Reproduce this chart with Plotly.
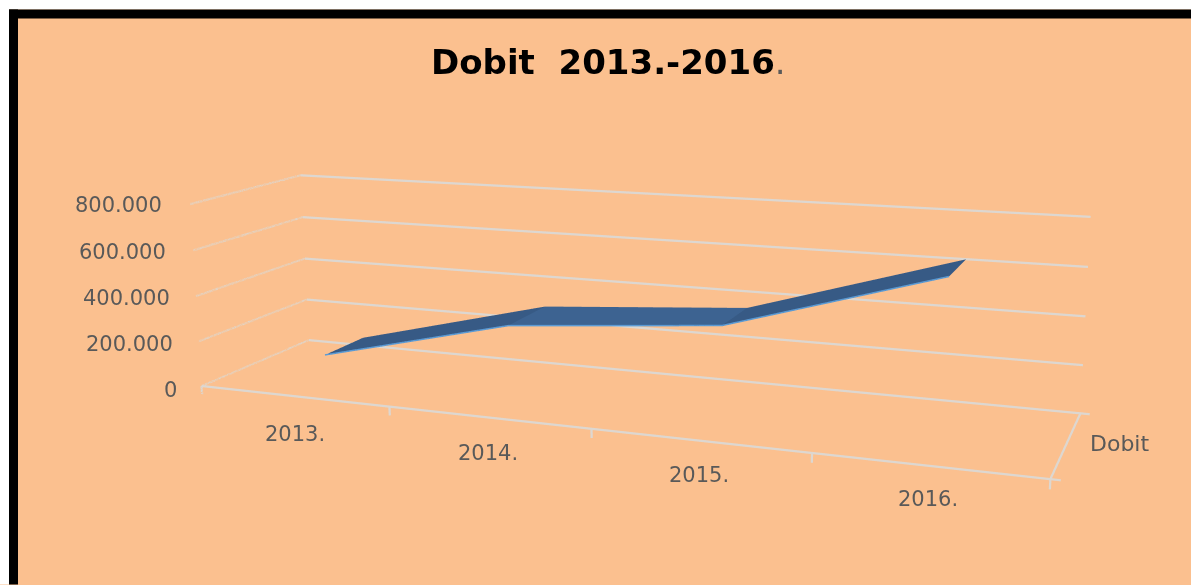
import numpy as np
import plotly.graph_objects as go

W, H = 1191, 585
HS = 1400               # taller scene: gives the long-lens perspective of the original
OFF = (HS - H) / 2

categories = ["2013.", "2014.", "2015.", "2016."]
series_name = "Dobit"
values = [108000, 316000, 366000, 631000]
z_ticks = [0, 200000, 400000, 600000, 800000]
z_labels = ["0", "200.000", "400.000", "600.000", "800.000"]
ribbon_front = [0.333, 0.316, 0.433, 0.420]
ribbon_back = [0.712, 0.748, 0.815, 0.819]
x_ticks = [-0.5, 0.533, 1.54, 2.533, 3.5]

# camera and box
eye = np.array([1.9154, -4.8343, 1.1892])
center = np.array([-0.6408, 1.3203, -0.2763])
up = [-0.376, 0.9164, 0.1371]
aspect = np.array([2.7499, 0.6666, 0.6113])
X_LO, X_HI, Z_LO, Z_HI = -0.5, 3.6, -45000, 810000
x_len, z_len = 4.0, 800000.0
new_aspect = aspect * [(X_HI - X_LO) / x_len, 1, (Z_HI - Z_LO) / z_len]
shift = np.array([-((X_HI + X_LO) / 2 - 1.5) / x_len * aspect[0], 0,
                  -((Z_HI + Z_LO) / 2 - 400000) / z_len * aspect[2]])
eye2, center2 = eye + shift, center + shift

fig = go.Figure()
GRID = "#DDD7D0"
FLAT_LIGHT = dict(ambient=1, diffuse=0, specular=0, roughness=1, fresnel=0)
def seg(xs, ys, zs, width=4.5, color=GRID):
    fig.add_trace(go.Scatter3d(x=xs, y=ys, z=zs, mode="lines", line=dict(color=color, width=width), hoverinfo="skip"))

half_line = 5000   # half thickness of a side-wall gridline, in axis units
for z in z_ticks:
    fig.add_trace(go.Surface(
        x=[[-0.5, -0.5], [-0.5, -0.5]], y=[[0, 1], [0, 1]],
        z=[[z - half_line, z - half_line], [z + half_line, z + half_line]],
        surfacecolor=[[0, 0], [0, 0]], colorscale=[[0, GRID], [1, GRID]], showscale=False,
        lighting=FLAT_LIGHT, hoverinfo="skip"))
    seg([-0.5, 3.5], [1, 1], [z, z])
seg([-0.5, 3.5], [0, 0], [0, 0])
seg([3.5, 3.5], [0, 1], [0, 0])
for x in x_ticks:
    seg([x, x], [0, 0], [0, -38000])
seg([3.5, 3.54], [0, 0], [0, 0])
seg([3.5, 3.54], [1, 1], [0, 0])

flat, steep = "#3D6391", "#375A85"
for i in range(3):
    col = flat if abs(values[i + 1] - values[i]) < 100000 else steep
    fig.add_trace(go.Surface(
        x=[[i, i + 1], [i, i + 1]],
        y=[[ribbon_front[i], ribbon_front[i + 1]], [ribbon_back[i], ribbon_back[i + 1]]],
        z=[[values[i], values[i + 1]], [values[i], values[i + 1]]],
        surfacecolor=[[0, 0], [0, 0]], colorscale=[[0, col], [1, col]], showscale=False,
        lighting=FLAT_LIGHT, hoverinfo="skip"))
seg([0, 1, 2, 3], ribbon_front, values, width=3, color="#5B9BD5")

def pos(px, py):
    return dict(x=px / W, y=1 - (py + OFF) / HS, xref="paper", yref="paper")
lab = dict(family="DejaVu Sans", size=21, color="#595959")
anns = []
for t, (px, py) in zip(categories, [(295, 434), (488, 453), (699, 475), (928, 499)]):
    anns.append(dict(text=t, **pos(px, py), xanchor="center", yanchor="middle", showarrow=False, font=lab))
for t, (px, py) in zip(z_labels, [(179, 390), (175, 344), (172, 298), (168, 252), (164, 205)]):
    anns.append(dict(text=t, **pos(px, py), xanchor="right", yanchor="middle", showarrow=False, font=lab))
anns.append(dict(text=series_name, **pos(1119, 444), xanchor="center", yanchor="middle", showarrow=False, font=dict(lab, size=22)))
anns.append(dict(text="<b>Dobit&nbsp;&nbsp;2013.-2016</b><span style='color:#595959'>.</span>", **pos(608, 62),
                 xanchor="center", yanchor="middle", showarrow=False, font=dict(family="DejaVu Sans", size=34, color="black")))

def rect(x0, y0, x1, y1, c):
    return dict(type="rect", xref="paper", yref="paper", x0=x0 / W, x1=x1 / W, y0=1 - (y0 + OFF) / HS, y1=1 - (y1 + OFF) / HS,
                fillcolor=c, line_width=0, layer="above")
shapes = [rect(0, 0, W, 10, "white"), rect(0, 0, 9, H, "white"), rect(9, 10, W, 19, "black"), rect(9, 10, 18, H, "black")]

hidden = dict(visible=False, showspikes=False)
fig.update_layout(
    width=W, height=HS, margin=dict(l=0, r=0, t=0, b=0), paper_bgcolor="#FBC08F", showlegend=False,
    annotations=anns, shapes=shapes,
    scene=dict(domain=dict(x=[0, 1], y=[0, 1]), bgcolor="rgba(0,0,0,0)", aspectmode="manual",
               aspectratio=dict(x=float(new_aspect[0]), y=float(new_aspect[1]), z=float(new_aspect[2])),
               camera=dict(eye=dict(x=float(eye2[0]), y=float(eye2[1]), z=float(eye2[2])),
                           center=dict(x=float(center2[0]), y=float(center2[1]), z=float(center2[2])),
                           up=dict(x=up[0], y=up[1], z=up[2]), projection=dict(type="perspective")),
               xaxis=dict(hidden, range=[X_LO, X_HI]),
               yaxis=dict(hidden, range=[0, 1]),
               zaxis=dict(hidden, range=[Z_LO, Z_HI])))
fig.write_html("out.html", config=dict(displayModeBar=False),
               post_script="document.documentElement.style.overflow='hidden';document.body.style.overflow='hidden';document.body.style.margin='0';document.body.style.marginTop='-%dpx';" % round(OFF))
